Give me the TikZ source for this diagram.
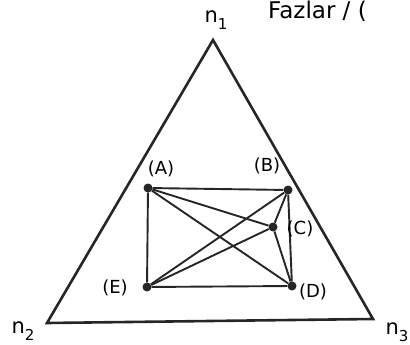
\documentclass[tikz,border=0pt]{standalone}
\usepackage{fontspec}
\setmainfont{DejaVu Sans}
\newcommand{\nsub}[1]{n\raisebox{-0.35em}{\fontsize{15}{15}\selectfont #1}}
\begin{document}
\begin{tikzpicture}[x=1pt,y=-1pt,
  vert/.style={circle,fill=black!85,inner sep=0pt,minimum size=9pt},
  lbl/.style={font=\fontsize{18}{18}\selectfont,inner sep=0pt},
  nlbl/.style={font=\fontsize{21}{21}\selectfont,inner sep=0pt},
  edge/.style={line width=1.9pt,black!85},
  tri/.style={line width=2.6pt,black!85,line join=miter}]
\useasboundingbox (0,0) rectangle (410,345);
\clip (0,0) rectangle (410,345);
% triangle
\coordinate (t1) at (213,40);
\coordinate (t2) at (47,323);
\coordinate (t3) at (373,319);
\draw[tri] (t1) -- (t2) -- (t3) -- cycle;
% vertices
\node[vert] (A) at (148,188) {};
\node[vert] (B) at (288,190) {};
\node[vert] (C) at (273,227) {};
\node[vert] (D) at (292,286) {};
\node[vert] (E) at (147,287) {};
\draw[edge] (A) -- (B) -- (D) -- (E) -- (A);
\draw[edge] (A) -- (D);
\draw[edge] (B) -- (E);
\draw[edge] (A) -- (C);
\draw[edge] (B) -- (C);
\draw[edge] (C) -- (D);
\draw[edge] (C) -- (E);
% labels
\node[lbl] (la) at (161,169) {(A)};
\node[lbl] (lb) at (267,166) {(B)};
\node[lbl] (lc) at (300,229) {(C)};
\node[lbl] (ld) at (313,292) {(D)};
\node[lbl] (le) at (115,288) {(E)};
\node[nlbl] (n1) at (216,20) {\nsub{1}};
\node[nlbl] (n2) at (23,331) {\nsub{2}};
\node[nlbl] (n3) at (397,332) {\nsub{3}};
\node[font=\fontsize{23}{23}\selectfont,inner sep=0pt,anchor=west] (fz) at (268,11) {Fazlar / (};
\end{tikzpicture}
\end{document}
